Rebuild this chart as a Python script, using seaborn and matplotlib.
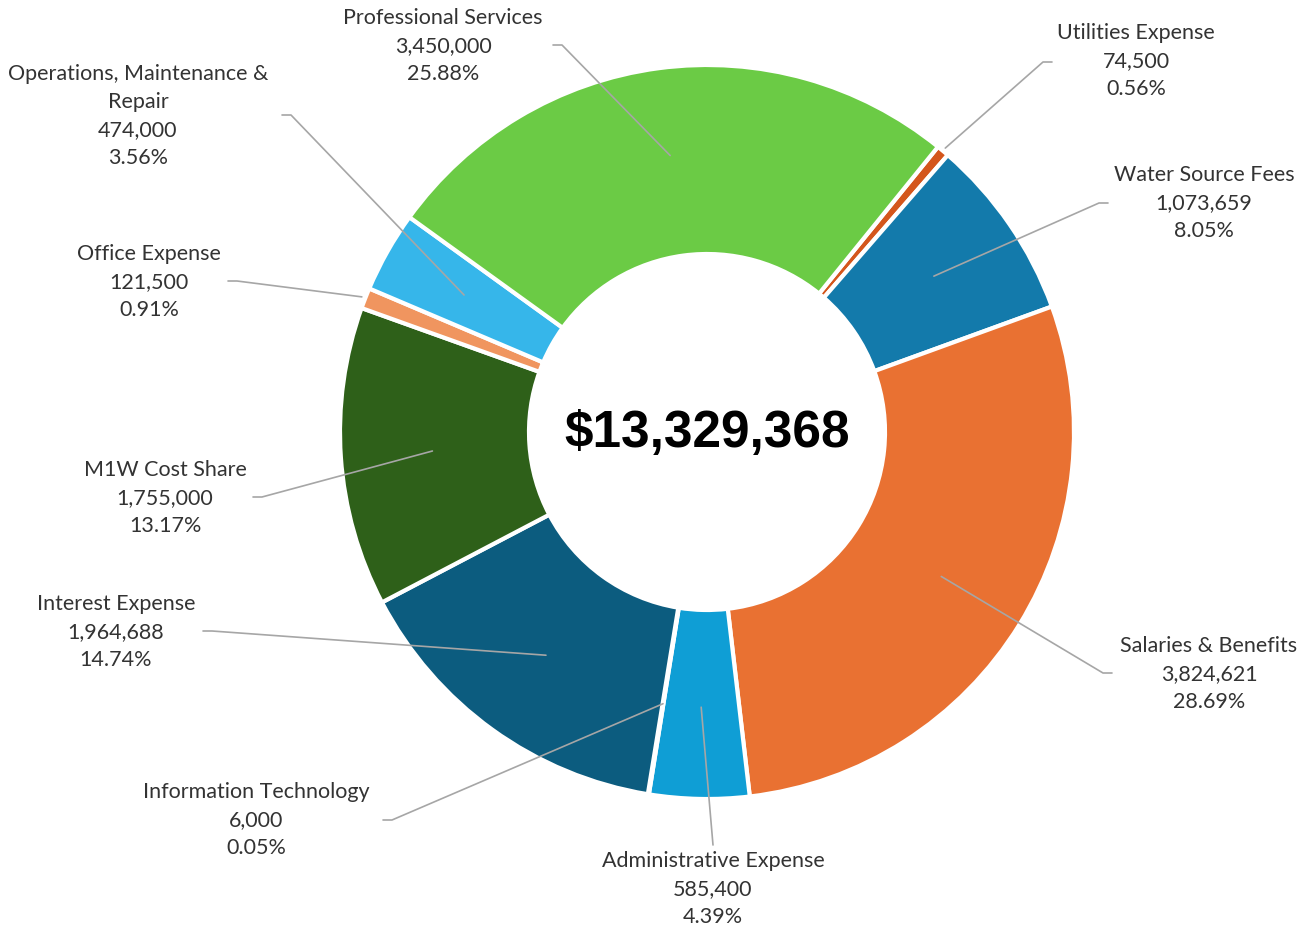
import numpy as np
import matplotlib
matplotlib.use("Agg")
import matplotlib.pyplot as plt
import seaborn as sns

# ---- data (clockwise order) ----
categories = ["Utilities Expense", "Water Source Fees", "Salaries & Benefits",
              "Administrative Expense", "Information Technology", "Interest Expense",
              "M1W Cost Share", "Office Expense", "Operations, Maintenance &\nRepair",
              "Professional Services"]
values = [74500, 1073659, 3824621, 585400, 6000, 1964688, 1755000, 121500, 474000, 3450000]
colors = ["#D4561C", "#137AAB", "#E97132", "#0F9ED5", "#A02B93", "#0C5C7F",
          "#2E6019", "#F0955F", "#36B6EA", "#6BCB45"]
center_label = "$13,329,368"

# ---- layout (pixel space, y measured from top) ----
W, H = 1304, 930
CX, CY = 707, 432
R_OUT, R_IN = 367, 178
label_pos = [(1136, 61), (1204, 203), (1209, 674), (713, 889), (256, 820),
             (116, 632), (165, 498), (149, 282), (138, 116), (443, 46)]
stub_start = [(1052, 62), (1108, 203), (1112, 673), None, (383, 820),
              (203, 631), (253, 497), (228, 281), (282, 115), (553, 45)]
admin_start = (713, 845)
end_r = [1.01, 0.75, 0.75, 0.75, 0.75, 0.75, 0.75, 1.01, 0.76, 0.76]

sns.set_theme(style="white")
plt.rcParams["font.family"] = ["Lato", "DejaVu Sans"]

fig = plt.figure(figsize=(W / 100, H / 100), dpi=100)
ax = fig.add_axes([0, 0, 1, 1])

def Y(y):
    return H - y

wedges, _ = ax.pie(values, radius=R_OUT, center=(CX, Y(CY)), startangle=51,
                   counterclock=False, colors=colors,
                   wedgeprops=dict(width=R_OUT - R_IN, edgecolor="white", linewidth=3))
ax.set_xlim(0, W)
ax.set_ylim(0, H)
ax.set_aspect("equal")
ax.axis("off")

total = sum(values)
line_col = "#A6A6A6"
text_col = "#333333"
for i, (w, cat, v) in enumerate(zip(wedges, categories, values)):
    mid = np.deg2rad((w.theta1 + w.theta2) / 2)
    ex = CX + end_r[i] * R_OUT * np.cos(mid)
    ey = Y(CY) + end_r[i] * R_OUT * np.sin(mid)
    if stub_start[i] is None:
        sx, sy = admin_start
        ax.plot([sx, ex], [Y(sy), ey], color=line_col, lw=1.2, zorder=5)
    else:
        sx, sy = stub_start[i]
        step = 9 if sx < CX else -9
        ax.plot([sx, sx + step, ex], [Y(sy), Y(sy), ey], color=line_col, lw=1.2, zorder=5)
    lx, ly = label_pos[i]
    txt = f"{cat}\n{v:,}\n{v / total * 100:.2f}%"
    ax.text(lx, Y(ly), txt, ha="center", va="center", fontsize=15.5,
            color=text_col, linespacing=1.52)

ax.text(CX, Y(CY + 2), center_label, ha="center", va="center", fontsize=37,
        fontweight="bold", family=["Liberation Sans", "DejaVu Sans"], color="black")

fig.savefig("out.png", dpi=100, facecolor="white")
